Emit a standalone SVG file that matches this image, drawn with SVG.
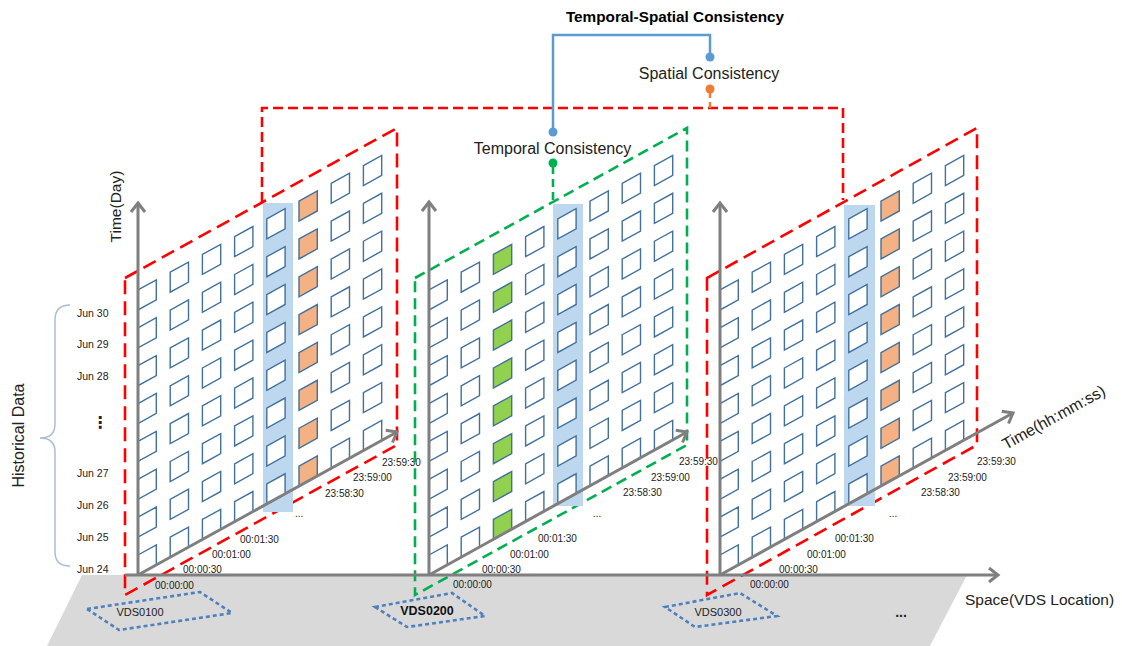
<svg xmlns="http://www.w3.org/2000/svg" xmlns:xlink="http://www.w3.org/1999/xlink" width="1122" height="646" viewBox="0 0 1122 646">
<style>
  text { font-family: "Liberation Sans", Arial, sans-serif; fill: #222; }
  .ts { font-size: 10px; }
  .day { font-size: 10.5px; }
  .lbl { font-size: 16px; }
  .vds { font-size: 11px; text-anchor: middle; }
  .cell { stroke: #41719c; stroke-width: 1.4; stroke-linejoin: miter; }
  .red { fill: none; stroke: #ff0000; stroke-width: 2.6; stroke-dasharray: 14 7; }
  .grn { fill: none; stroke: #00b050; stroke-width: 2.6; stroke-dasharray: 11 6; }
  .axis { fill: none; stroke: #7f7f7f; stroke-width: 3; marker-end: url(#arr); }
  .hl { fill: #bdd7ee; }
  .vdsbox { fill: none; stroke: #4f81bd; stroke-width: 2.6; stroke-dasharray: 4 3; }
  .w { fill: #ffffff; }
  .o { fill: #f4b183; }
  .g { fill: #92d050; }
</style>
<defs>
  <marker id="arr" markerUnits="userSpaceOnUse" markerWidth="24" markerHeight="24" viewBox="-14 -12 18 24" refX="0" refY="0" orient="auto">
    <path d="M-9,-7 L0,0 L-9,7" fill="none" stroke="#7f7f7f" stroke-width="3"/>
  </marker>
  <path id="cell" class="cell" d="M0,0 L18.3,-10.1 L18.3,9.9 L0,20 Z"/>
  <g id="col">
    <use xlink:href="#cell" y="0"/>
    <use xlink:href="#cell" y="-37.86"/>
    <use xlink:href="#cell" y="-75.72"/>
    <use xlink:href="#cell" y="-113.58"/>
    <use xlink:href="#cell" y="-151.44"/>
    <use xlink:href="#cell" y="-189.3"/>
    <use xlink:href="#cell" y="-227.16"/>
    <use xlink:href="#cell" y="-265.02"/>
  </g>
</defs>

<rect width="1122" height="646" fill="#ffffff"/>

<!-- floor -->
<g id="floor">
  <polygon points="82,575 967,575 930,646 47,646" fill="#d9d9d9"/>
</g>

<!-- left labels -->
<g id="historical-data">
  <path d="M70,305 Q55,305 55,320 L55,424 Q55,438 40,438 Q55,438 55,452 L55,552 Q55,566 70,566" fill="none" stroke="#a9bcd3" stroke-width="1.5"/>
  <text class="lbl" text-anchor="middle" transform="translate(24,435.5) rotate(-90)">Historical Data</text>
  <text class="day" x="77" y="316.7">Jun 30</text>
  <text class="day" x="77" y="347.7">Jun 29</text>
  <text class="day" x="77" y="379.7">Jun 28</text>
  <text x="100" y="428" font-size="16" font-weight="bold" text-anchor="middle" style="font-family:'DejaVu Sans',sans-serif">⋮</text>
  <text class="day" x="77" y="476.7">Jun 27</text>
  <text class="day" x="77" y="508.7">Jun 26</text>
  <text class="day" x="77" y="540.7">Jun 25</text>
  <text class="day" x="77" y="572.7">Jun 24</text>
</g>

<!-- Panel VDS0100 -->
<g id="panel-vds0100">
  <polygon class="vdsbox" points="87,609 200,592 232,613 119,630"/>
  <text class="vds" x="140" y="616">VDS0100</text>
  <polygon class="red" points="125,278 397,128 397,445 125,595"/>
  <rect class="hl" x="263" y="203" width="30" height="309"/>
  <use xlink:href="#col" class="w" x="138" y="555"/>
  <use xlink:href="#col" class="w" x="170.2" y="537.22"/>
  <use xlink:href="#col" class="w" x="202.4" y="519.44"/>
  <use xlink:href="#col" class="w" x="234.6" y="501.66"/>
  <use xlink:href="#col" class="w" x="266.8" y="483.88"/>
  <use xlink:href="#col" class="o" x="299" y="466.1"/>
  <use xlink:href="#col" class="w" x="331.2" y="448.32"/>
  <use xlink:href="#col" class="w" x="363.4" y="430.54"/>
  <line class="axis" x1="138" y1="575" x2="138" y2="203"/>
  <line class="axis" x1="138" y1="575" x2="397" y2="432"/>
  <text class="lbl" text-anchor="middle" transform="translate(121,206.5) rotate(-90)" style="font-size:15.5px">Time(Day)</text>
  <text class="ts" x="155" y="588.5">00:00:00</text>
  <text class="ts" x="183" y="572.5">00:00:30</text>
  <text class="ts" x="212" y="557.5">00:01:00</text>
  <text class="ts" x="240" y="542.5">00:01:30</text>
  <text class="ts" x="295" y="517">...</text>
  <text class="ts" x="325" y="496.5">23:58:30</text>
  <text class="ts" x="353" y="480.5">23:59:00</text>
  <text class="ts" x="382" y="465.5">23:59:30</text>
</g>

<!-- Panel VDS0200 -->
<g id="panel-vds0200">
  <polygon class="vdsbox" points="375,607 452,593 485,616 407,627"/>
  <text class="vds" x="427" y="615" style="font-size:12.5px;font-weight:bold;fill:#111">VDS0200</text>
  <polygon class="grn" points="415,278 687,128 687,445 415,595"/>
  <rect class="hl" x="553" y="204" width="30" height="302"/>
  <use xlink:href="#col" class="w" x="429" y="555"/>
  <use xlink:href="#col" class="w" x="461.2" y="537.22"/>
  <use xlink:href="#col" class="g" x="493.4" y="519.44"/>
  <use xlink:href="#col" class="w" x="525.6" y="501.66"/>
  <use xlink:href="#col" class="w" x="557.8" y="483.88"/>
  <use xlink:href="#col" class="w" x="590" y="466.1"/>
  <use xlink:href="#col" class="w" x="622.2" y="448.32"/>
  <use xlink:href="#col" class="w" x="654.4" y="430.54"/>
  <line class="axis" x1="429" y1="575" x2="429" y2="202"/>
  <line class="axis" x1="429" y1="575" x2="687" y2="432"/>
  <text class="ts" x="453" y="588">00:00:00</text>
  <text class="ts" x="482" y="573">00:00:30</text>
  <text class="ts" x="510" y="557.5">00:01:00</text>
  <text class="ts" x="538" y="541.5">00:01:30</text>
  <text class="ts" x="593" y="517">...</text>
  <text class="ts" x="623" y="495.5">23:58:30</text>
  <text class="ts" x="651" y="480.5">23:59:00</text>
  <text class="ts" x="679" y="464.5">23:59:30</text>
</g>

<!-- Panel VDS0300 -->
<g id="panel-vds0300">
  <polygon class="vdsbox" points="665,607 740,593 777,616 695,627"/>
  <text class="vds" x="718" y="616">VDS0300</text>
  <polygon class="red" points="707,278 977,128 977,445 707,595"/>
  <rect class="hl" x="844" y="205" width="31" height="301"/>
  <use xlink:href="#col" class="w" x="720" y="555"/>
  <use xlink:href="#col" class="w" x="752.2" y="537.22"/>
  <use xlink:href="#col" class="w" x="784.4" y="519.44"/>
  <use xlink:href="#col" class="w" x="816.6" y="501.66"/>
  <use xlink:href="#col" class="w" x="848.8" y="483.88"/>
  <use xlink:href="#col" class="o" x="881" y="466.1"/>
  <use xlink:href="#col" class="w" x="913.2" y="448.32"/>
  <use xlink:href="#col" class="w" x="945.4" y="430.54"/>
  <line class="axis" x1="720" y1="575" x2="720" y2="203"/>
  <line class="axis" x1="720" y1="575" x2="1013" y2="413"/>
  <text class="ts" x="750" y="587.5">00:00:00</text>
  <text class="ts" x="779" y="572.5">00:00:30</text>
  <text class="ts" x="807" y="557.5">00:01:00</text>
  <text class="ts" x="835" y="541.5">00:01:30</text>
  <text class="ts" x="889" y="517">...</text>
  <text class="ts" x="921" y="495.5">23:58:30</text>
  <text class="ts" x="948" y="480.5">23:59:00</text>
  <text class="ts" x="977" y="464.5">23:59:30</text>
</g>

<!-- space axis -->
<g id="space-axis">
  <line class="axis" x1="125" y1="575" x2="998" y2="575"/>
  <text class="lbl" x="965" y="605" style="font-size:15.5px">Space(VDS Location)</text>
  <text class="lbl" transform="translate(1006,450) rotate(-29)">Time(hh:mm:ss)</text>
  <text x="901" y="617" font-size="14" font-weight="bold" text-anchor="middle">...</text>
</g>

<!-- consistency connectors -->
<g id="connectors">
  <path d="M262,202 V108 H843 V200" fill="none" stroke="#ff0000" stroke-width="2.6" stroke-dasharray="10 5"/>
  <path d="M553,132 V35 H710 V57" fill="none" stroke="#5b9bd5" stroke-width="2.5"/>
  <circle cx="553" cy="132" r="4.5" fill="#5b9bd5"/>
  <circle cx="710" cy="57" r="4.5" fill="#5b9bd5"/>
  <line x1="710" y1="92" x2="710" y2="108" stroke="#ed7d31" stroke-width="2.5" stroke-dasharray="6 4"/>
  <circle cx="710" cy="89" r="4.5" fill="#ed7d31"/>
  <line x1="553" y1="166" x2="553" y2="202" stroke="#00b050" stroke-width="2.6" stroke-dasharray="8 5"/>
  <circle cx="553" cy="163" r="4.5" fill="#00b050"/>
</g>

<g id="consistency-labels">
  <text x="675" y="21.5" font-size="15.3" font-weight="bold" text-anchor="middle" style="fill:#000">Temporal-Spatial Consistency</text>
  <text class="lbl" x="709" y="79" text-anchor="middle">Spatial Consistency</text>
  <text class="lbl" x="552.5" y="154" text-anchor="middle">Temporal Consistency</text>
</g>
</svg>
